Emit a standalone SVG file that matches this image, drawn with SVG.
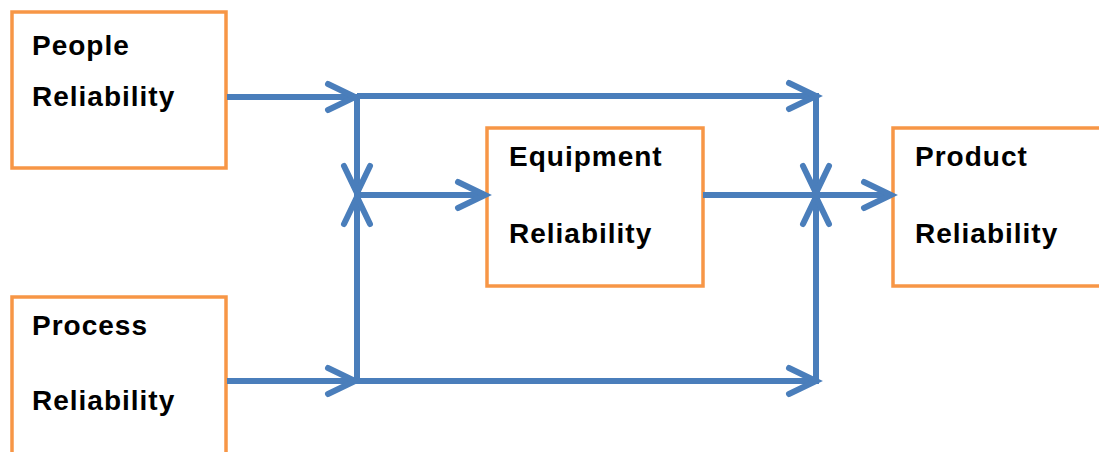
<svg xmlns="http://www.w3.org/2000/svg" width="1099" height="452" viewBox="0 0 1099 452">
  <style>
    .box { fill: #ffffff; stroke: #F79646; stroke-width: 3.5; }
    .lbl { font-family: "Liberation Sans", Arial, sans-serif; font-size: 28px; font-weight: bold; letter-spacing: 1px; fill: #000000; }
    .wire { fill: none; stroke: #4A7EBB; stroke-width: 6; stroke-linecap: butt; }
    .head { fill: none; stroke: #4A7EBB; stroke-width: 6; stroke-linecap: round; stroke-linejoin: miter; }
  </style>
  <defs>
    <!-- open chevron arrowhead, tip at origin, pointing right -->
    <path id="chev" class="head" d="M-27,-13 L0,0 L-27,13"/>
  </defs>
  <rect width="1099" height="452" fill="#ffffff"/>

  <g id="people">
    <rect class="box" x="12" y="12" width="214" height="156"/>
    <text class="lbl" x="32" y="55">People</text>
    <text class="lbl" x="32" y="106">Reliability</text>
  </g>

  <g id="process">
    <rect class="box" x="12" y="297" width="214" height="170"/>
    <text class="lbl" x="32" y="335">Process</text>
    <text class="lbl" x="32" y="410">Reliability</text>
  </g>

  <g id="equipment">
    <rect class="box" x="487" y="128" width="216" height="158"/>
    <text class="lbl" x="509" y="166">Equipment</text>
    <text class="lbl" x="509" y="243">Reliability</text>
  </g>

  <g id="product">
    <rect class="box" x="893" y="128" width="220" height="158"/>
    <text class="lbl" x="915" y="166">Product</text>
    <text class="lbl" x="915" y="243">Reliability</text>
  </g>

  <g id="connectors">
    <!-- people to upper junction -->
    <path class="wire" d="M227,97 H357"/>
    <use href="#chev" transform="translate(355,97)"/>
    <!-- upper bus to right junction -->
    <path class="wire" d="M357,96 H816 V195"/>
    <use href="#chev" transform="translate(816,96)"/>
    <use href="#chev" transform="translate(816,193) rotate(90)"/>
    <!-- left drop into the equipment feed -->
    <path class="wire" d="M357,96 V380"/>
    <use href="#chev" transform="translate(357,193) rotate(90)"/>
    <use href="#chev" transform="translate(357,197) rotate(-90)"/>
    <!-- feed to equipment -->
    <path class="wire" d="M357,195 H485"/>
    <use href="#chev" transform="translate(485,195)"/>
    <!-- process to lower junction -->
    <path class="wire" d="M227,381 H357"/>
    <use href="#chev" transform="translate(355,381)"/>
    <!-- lower bus up to right junction -->
    <path class="wire" d="M357,381 H816 V195"/>
    <use href="#chev" transform="translate(816,381)"/>
    <use href="#chev" transform="translate(816,197) rotate(-90)"/>
    <!-- equipment to product -->
    <path class="wire" d="M703,195 H891"/>
    <use href="#chev" transform="translate(891,195)"/>
  </g>
</svg>
